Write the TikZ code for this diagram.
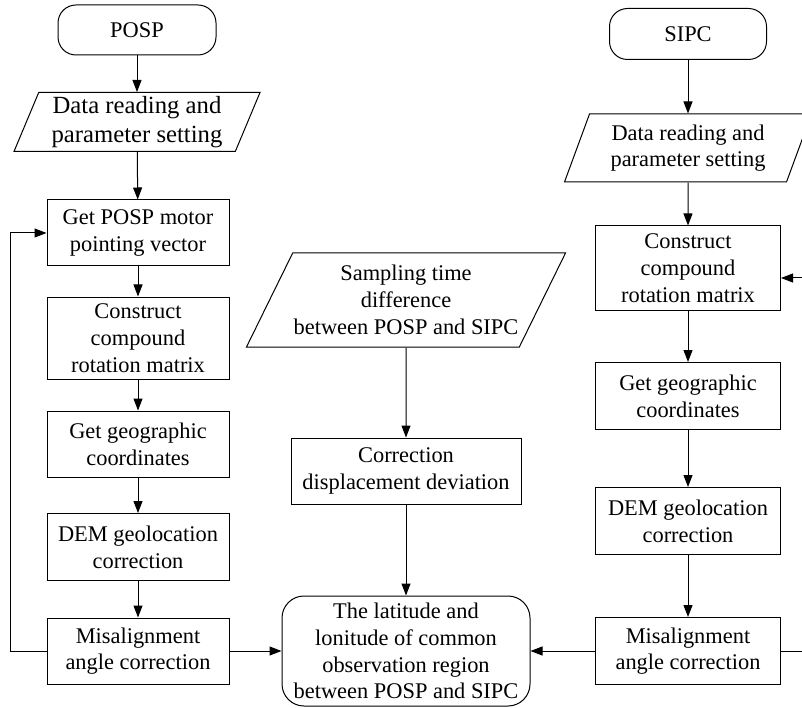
\documentclass[tikz,border=0pt]{standalone}
\usepackage{fontspec}
\setmainfont{Liberation Serif}
\usetikzlibrary{arrows.meta,positioning}
\usetikzlibrary{shapes.geometric}

\begin{document}
\begin{tikzpicture}
	[x=1pt,y=-1pt,>={Triangle[length=12pt,width=9pt]},line width=1pt,
	font=\fontsize{22.4}{26.7}\selectfont,
	box node/.style={shape=rectangle,draw,align=center,inner sep=2pt},
	end node/.style={shape=rectangle,rounded corners=18pt,draw,align=center,inner sep=2pt},
	io node/.style={shape=trapezium,draw,align=center,trapezium stretches body,inner sep=1pt}]
	\clip (0,0) rectangle (802,708);
	
	% POSP side
	\node [end node,minimum width=158pt,minimum height=50pt] (1) at (137,30) {POSP} ;
	\node [io node,font=\fontsize{24.7}{28.5}\selectfont,trapezium left angle=65,trapezium right angle=115,minimum width=246pt,minimum height=59pt] (2) at (137,122) {Data reading and\\parameter setting} ;
	\node [box node,minimum width=182pt,minimum height=66pt] (3) at (138,233) {Get POSP motor\\pointing vector} ;
	\node [box node,minimum width=182pt,minimum height=82pt] (4) at (138,338) {Construct\\compound\\rotation matrix} ;
	\node [box node,minimum width=182pt,minimum height=66pt] (5) at (138,444) {Get geographic\\coordinates} ;
	\node [box node,minimum width=182pt,minimum height=67pt] (6) at (138,547) {DEM geolocation\\correction} ;
	\node [box node,minimum width=182pt,minimum height=66pt] (7) at (138,651) {Misalignment\\angle correction} ;
	
	% middle
	\node [io node,trapezium left angle=57,trapezium right angle=123,minimum width=300pt,minimum height=94pt] (8) at (406,300) {Sampling time\\difference\\between POSP and SIPC} ;
	\node [box node,minimum width=230pt,minimum height=66pt] (9) at (406,471) {Correction\\displacement deviation} ;
	\node [end node,rounded corners=22pt,minimum width=248pt,minimum height=110pt] (10) at (406,651) {The latitude and\\lonitude of common\\observation region\\between POSP and SIPC} ;
	
	% SIPC side
	\node [end node,minimum width=157pt,minimum height=51pt] (11) at (688,34) {SIPC} ;
	\node [io node,trapezium left angle=63,trapezium right angle=117,minimum width=247pt,minimum height=68pt] (12) at (688,148) {Data reading and\\parameter setting} ;
	\node [box node,minimum width=185pt,minimum height=84pt] (13) at (688,268) {Construct\\compound\\rotation matrix} ;
	\node [box node,minimum width=185pt,minimum height=67pt] (14) at (688,396) {Get geographic\\coordinates} ;
	\node [box node,minimum width=185pt,minimum height=67pt] (15) at (688,521) {DEM geolocation\\correction} ;
	\node [box node,minimum width=185pt,minimum height=67pt] (16) at (688,651) {Misalignment\\angle correction} ;
	
	\coordinate (fbL) at (10,233);
	\coordinate (fbR) at (815,450);
	
	\path[draw,->]
	(1) edge (2)
	(2) edge (3)
	(3) edge (4)
	(4) edge (5)
	(5) edge (6)
	(6) edge (7)
	(8) edge (9)
	(9) edge (10)
	(7) edge (10)
	(16) edge (10)
	(11) edge (12)
	(12) edge (13)
	(13) edge (14)
	(14) edge (15)
	(15) edge (16)
	;
	\draw[->] (7.west) -| (fbL) -- (3.west);
	\draw[->] (16.east) -| (fbR) |- ([yshift=-10pt]13.east);
	
\end{tikzpicture}
\end{document}
